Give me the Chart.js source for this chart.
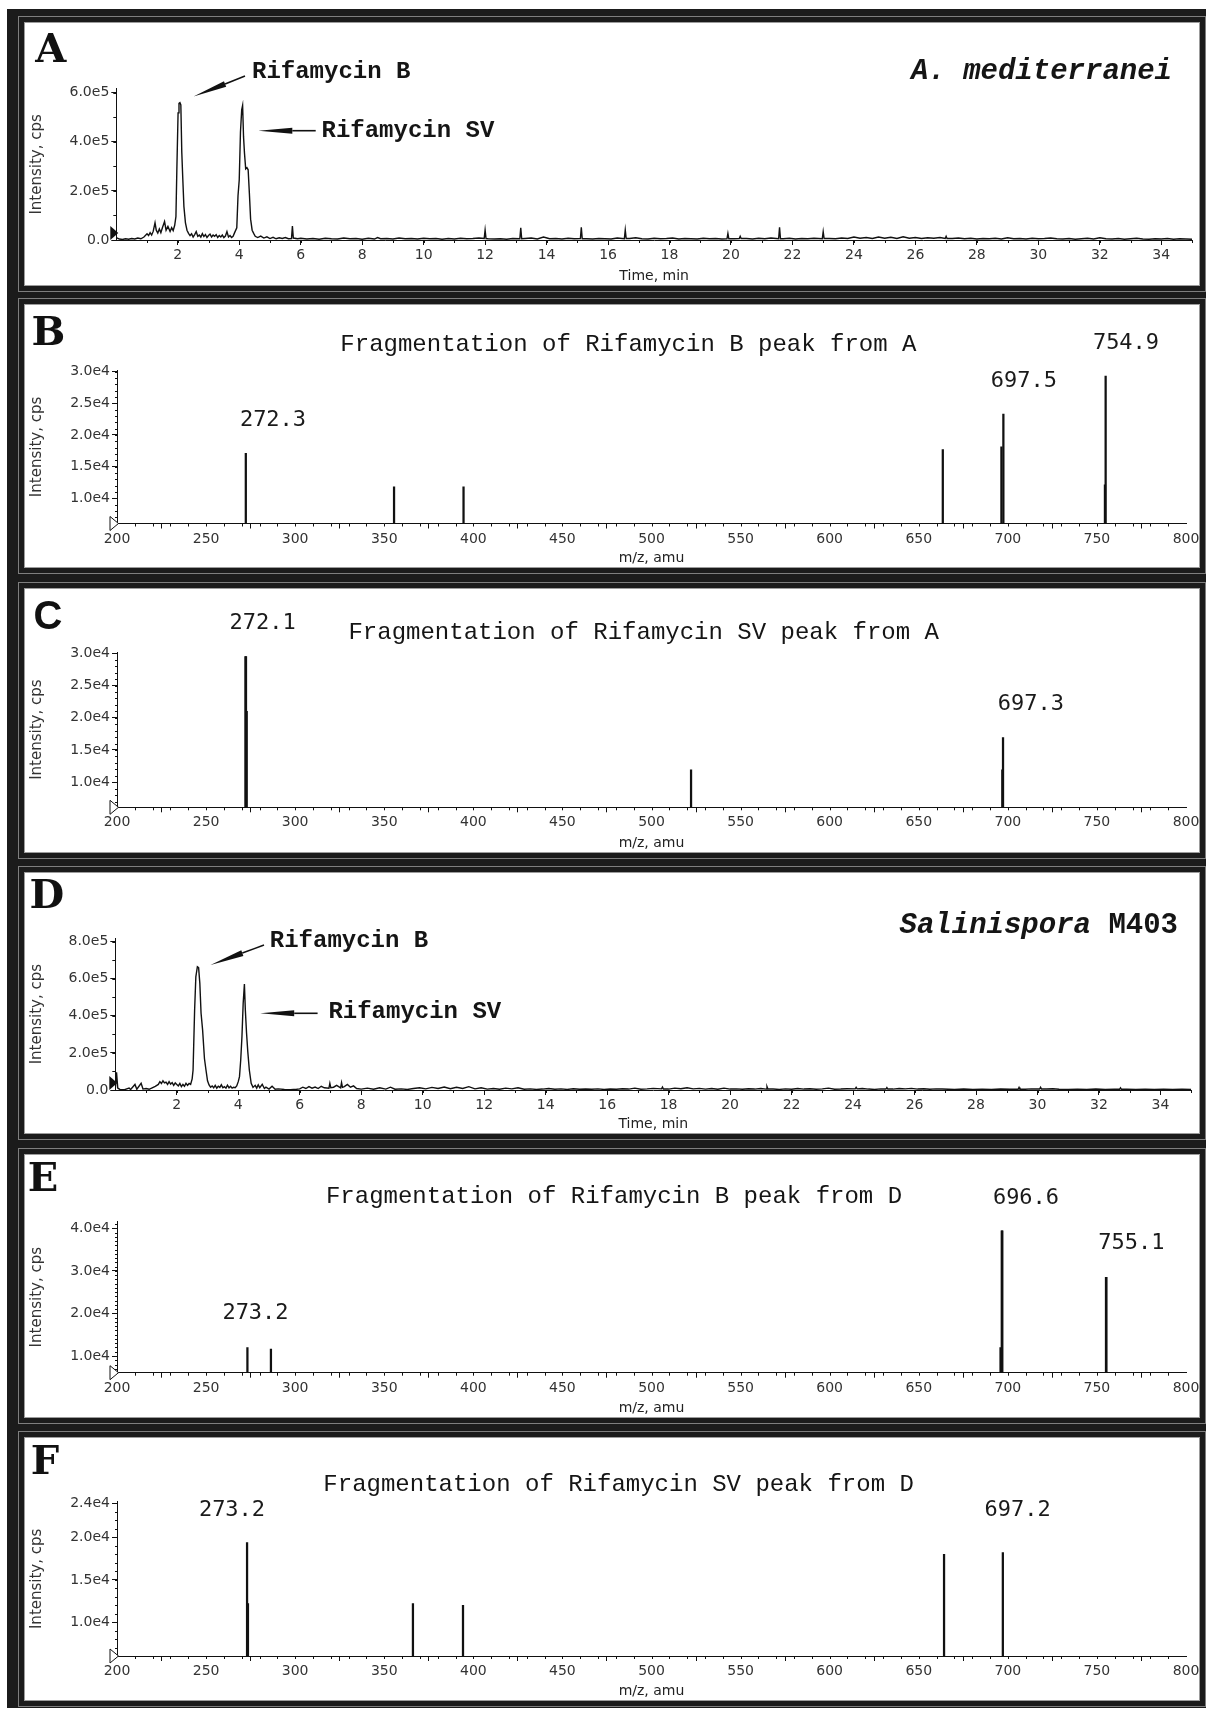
<!DOCTYPE html>
<html>
<head>
<meta charset="utf-8">
<script src="https://cdn.jsdelivr.net/npm/chart.js@4.4.1/dist/chart.umd.min.js"></script>
<style>
  html, body { margin: 0; padding: 0; background: #fff; }
  #page { position: relative; width: 1206px; height: 1709px; overflow: hidden; background: #fff; }
  #frame { position: absolute; left: 7px; top: 9px; width: 1199px; height: 1699px; background: #1b1b1b; }
  .panel { position: absolute; background: #fff;
           box-shadow: 0 0 0 1px #9c9c9c, 0 0 0 6px #1b1b1b, 0 0 0 7px #7e7e7e; }
  canvas { position: absolute; }
  .t { position: absolute; white-space: nowrap; line-height: 1; color: #151515; transform: translate(-50%, -50%); }
  .l { transform: translate(0, -50%); }
  .r { transform: translate(-100%, -50%); }
  .letter { font-family: "DejaVu Serif", serif; font-weight: bold; font-size: 40px; color: #111; }
  .mono { font-family: "Courier New", "Liberation Mono", monospace; font-size: 24px; }
  .bold { font-weight: bold; }
  .peak { font-family: "DejaVu Sans Mono", monospace; font-size: 22px; color: #1a1a1a; }
  .species { font-family: "Courier New", "Liberation Mono", monospace; font-size: 29px; font-weight: bold; }
  svg { position: absolute; left: 0; top: 0; }
</style>
</head>
<body>
<div id="page">
  <div id="frame"></div>
  <div class="panel" style="left:25px;top:23px;width:1174px;height:262px"></div>
  <div class="panel" style="left:25px;top:305px;width:1174px;height:262px"></div>
  <div class="panel" style="left:25px;top:589px;width:1174px;height:263px"></div>
  <div class="panel" style="left:25px;top:873px;width:1174px;height:260px"></div>
  <div class="panel" style="left:25px;top:1155px;width:1174px;height:262px"></div>
  <div class="panel" style="left:25px;top:1438px;width:1174px;height:262px"></div>

  <canvas id="cA"></canvas>
  <canvas id="cB"></canvas>
  <canvas id="cC"></canvas>
  <canvas id="cD"></canvas>
  <canvas id="cE"></canvas>
  <canvas id="cF"></canvas>

  <svg id="arrows" width="1206" height="1709"></svg>

  <!-- panel A -->
  <div class="t letter" style="left:50.7px;top:47.5px">A</div>
  <div class="t l mono bold" style="left:252px;top:72px">Rifamycin B</div>
  <div class="t l mono bold" style="left:321.5px;top:130.7px">Rifamycin SV</div>
  <div class="t r species" style="left:1172px;top:71px"><i>A. mediterranei</i></div>

  <!-- panel B -->
  <div class="t letter" style="left:48.4px;top:330.8px">B</div>
  <div class="t mono" style="left:628.4px;top:345px">Fragmentation of Rifamycin B peak from A</div>
  <div class="t peak" style="left:273px;top:418.7px">272.3</div>
  <div class="t peak" style="left:1023.9px;top:380px">697.5</div>
  <div class="t peak" style="left:1126px;top:342.3px">754.9</div>

  <!-- panel C -->
  <div class="t letter" style="left:48px;top:615px;font-family:'Liberation Sans',sans-serif">C</div>
  <div class="t mono" style="left:643.7px;top:633.3px">Fragmentation of Rifamycin SV peak from A</div>
  <div class="t peak" style="left:262.7px;top:622.3px">272.1</div>
  <div class="t peak" style="left:1030.8px;top:703.3px">697.3</div>

  <!-- panel D -->
  <div class="t letter" style="left:46.9px;top:894px">D</div>
  <div class="t l mono bold" style="left:269.8px;top:940.7px">Rifamycin B</div>
  <div class="t l mono bold" style="left:328.4px;top:1011.7px">Rifamycin SV</div>
  <div class="t r species" style="left:1178px;top:925px"><i>Salinispora</i> M403</div>

  <!-- panel E -->
  <div class="t letter" style="left:43px;top:1176.7px">E</div>
  <div class="t mono" style="left:614px;top:1197.3px">Fragmentation of Rifamycin B peak from D</div>
  <div class="t peak" style="left:255.5px;top:1311.7px">273.2</div>
  <div class="t peak" style="left:1026px;top:1196.7px">696.6</div>
  <div class="t peak" style="left:1131.4px;top:1242.3px">755.1</div>

  <!-- panel F -->
  <div class="t letter" style="left:45px;top:1460px">F</div>
  <div class="t mono" style="left:618.6px;top:1485px">Fragmentation of Rifamycin SV peak from D</div>
  <div class="t peak" style="left:232px;top:1509.3px">273.2</div>
  <div class="t peak" style="left:1017.6px;top:1509.3px">697.2</div>
</div>

<script>
// ---------- data ----------
// chromatograms: [time (min), intensity (x1e5 cps)]
const A_TRACE = [
  [0.00,0.10],[0.10,0.04],[0.20,0.02],[0.30,0.05],[0.40,0.03],[0.50,0.06],[0.60,0.04],[0.70,0.08],[0.80,0.05],[0.90,0.12],
  [1.00,0.25],[1.05,0.18],[1.10,0.30],[1.15,0.20],[1.20,0.35],[1.26,0.70],[1.30,0.40],[1.35,0.28],[1.40,0.45],[1.45,0.30],
  [1.50,0.50],[1.57,0.75],[1.62,0.40],[1.68,0.55],[1.75,0.35],[1.80,0.50],[1.85,0.38],[1.90,0.60],
  [1.94,0.95],[1.97,2.86],[2.01,5.18],[2.04,5.57],[2.07,5.60],[2.10,5.50],[2.13,3.60],[2.16,2.60],[2.20,1.36],[2.25,0.70],
  [2.30,0.40],[2.35,0.27],[2.40,0.18],[2.45,0.25],[2.50,0.12],[2.55,0.22],[2.60,0.34],[2.65,0.15],[2.70,0.20],[2.75,0.12],
  [2.80,0.26],[2.85,0.14],[2.90,0.22],[2.95,0.10],[3.00,0.18],[3.05,0.24],[3.10,0.12],[3.15,0.20],[3.20,0.15],[3.25,0.22],
  [3.30,0.10],[3.35,0.18],[3.40,0.12],[3.45,0.20],[3.50,0.10],[3.55,0.16],[3.60,0.34],[3.65,0.12],[3.70,0.18],[3.75,0.10],
  [3.80,0.15],[3.85,0.30],[3.92,0.50],[3.96,1.80],[4.00,2.45],[4.04,4.40],[4.08,5.30],[4.11,5.48],[4.14,4.20],[4.17,3.55],
  [4.21,2.90],[4.25,2.95],[4.29,2.86],[4.33,1.90],[4.37,0.85],[4.42,0.40],[4.47,0.27],[4.52,0.15],
  [4.60,0.10],[4.70,0.16],[4.80,0.08],[4.90,0.13],[5.00,0.06],[5.10,0.11],[5.20,0.05],[5.30,0.09],[5.40,0.06],[5.50,0.10],
  [5.60,0.05],[5.70,0.06],[5.73,0.57],[5.76,0.08],[5.90,0.05],[6.00,0.07],[6.20,0.04],[6.40,0.06],[6.60,0.03],[6.80,0.07],
  [7.00,0.05],[7.20,0.04],[7.40,0.08],[7.60,0.05],[7.80,0.06],[8.00,0.03],[8.20,0.07],[8.40,0.04],[8.50,0.10],[8.60,0.05],
  [8.80,0.06],[9.00,0.04],[9.20,0.08],[9.40,0.05],[9.60,0.06],[9.80,0.04],[10.0,0.07],[10.2,0.05],[10.4,0.06],[10.6,0.03],
  [10.8,0.06],[11.0,0.04],[11.2,0.07],[11.4,0.05],[11.6,0.06],[11.8,0.08],[11.97,0.06],[12.0,0.41],[12.03,0.06],[12.1,0.05],
  [12.3,0.04],[12.5,0.05],[12.7,0.03],[12.9,0.06],[13.13,0.05],[13.16,0.50],[13.19,0.05],[13.3,0.06],[13.5,0.08],[13.7,0.04],
  [13.9,0.12],[14.1,0.05],[14.3,0.06],[14.5,0.04],[14.7,0.07],[14.9,0.05],[15.10,0.06],[15.13,0.52],[15.16,0.05],[15.3,0.05],
  [15.5,0.04],[15.7,0.06],[15.9,0.05],[16.1,0.04],[16.3,0.08],[16.53,0.05],[16.56,0.41],[16.59,0.06],[16.7,0.06],[16.9,0.09],
  [17.1,0.05],[17.3,0.04],[17.5,0.07],[17.7,0.05],[17.9,0.06],[18.1,0.08],[18.3,0.04],[18.5,0.06],[18.7,0.05],[18.9,0.04],
  [19.1,0.07],[19.3,0.05],[19.5,0.06],[19.7,0.04],[19.87,0.05],[19.9,0.27],[19.93,0.05],[20.1,0.05],[20.27,0.06],[20.3,0.15],
  [20.33,0.06],[20.5,0.06],[20.7,0.04],[20.9,0.07],[21.1,0.05],[21.3,0.08],[21.55,0.05],[21.58,0.52],[21.61,0.05],[21.7,0.05],
  [21.9,0.07],[22.1,0.04],[22.3,0.06],[22.5,0.05],[22.7,0.07],[22.97,0.05],[23.0,0.34],[23.03,0.06],[23.2,0.06],[23.4,0.05],
  [23.6,0.08],[23.8,0.06],[24.0,0.12],[24.2,0.07],[24.4,0.10],[24.6,0.06],[24.8,0.12],[25.0,0.07],[25.2,0.11],[25.4,0.06],
  [25.6,0.13],[25.8,0.07],[26.0,0.10],[26.2,0.06],[26.4,0.09],[26.6,0.07],[26.8,0.10],[26.97,0.06],[27.0,0.15],[27.03,0.06],
  [27.2,0.06],[27.4,0.08],[27.6,0.05],[27.8,0.07],[28.0,0.04],[28.2,0.06],[28.4,0.05],[28.6,0.07],[28.8,0.04],[29.0,0.09],
  [29.2,0.05],[29.4,0.06],[29.6,0.04],[29.8,0.07],[30.0,0.05],[30.2,0.06],[30.4,0.08],[30.6,0.05],[30.8,0.04],[31.0,0.06],
  [31.2,0.03],[31.4,0.05],[31.6,0.07],[31.8,0.04],[32.0,0.09],[32.2,0.05],[32.4,0.04],[32.6,0.06],[32.8,0.03],[33.0,0.05],
  [33.2,0.07],[33.4,0.04],[33.6,0.03],[33.8,0.05],[34.0,0.04],[34.2,0.06],[34.4,0.03],[34.6,0.05],[34.8,0.04],[35.0,0.03]
];

const D_TRACE = [
  [0.00,0.05],[0.04,0.95],[0.08,0.10],[0.15,0.03],[0.30,0.02],[0.45,0.10],[0.50,0.03],[0.64,0.30],[0.70,0.04],[0.84,0.36],
  [0.90,0.05],[1.00,0.08],[1.10,0.04],[1.20,0.12],[1.30,0.20],[1.40,0.30],[1.45,0.45],[1.50,0.35],[1.55,0.50],[1.60,0.38],
  [1.65,0.42],[1.70,0.30],[1.75,0.45],[1.80,0.32],[1.85,0.40],[1.90,0.25],[1.95,0.38],[2.00,0.30],[2.05,0.22],[2.10,0.35],
  [2.15,0.18],[2.20,0.30],[2.25,0.20],[2.30,0.36],[2.35,0.25],[2.40,0.35],[2.45,0.30],[2.50,0.60],[2.53,1.08],[2.58,4.30],
  [2.62,6.10],[2.67,6.65],[2.71,6.60],[2.75,5.75],[2.79,4.14],[2.84,3.24],[2.90,1.70],[2.95,1.08],[3.00,0.50],[3.05,0.27],
  [3.10,0.15],[3.15,0.22],[3.20,0.12],[3.25,0.25],[3.30,0.10],[3.35,0.20],[3.40,0.14],[3.45,0.28],[3.50,0.12],[3.55,0.18],
  [3.60,0.10],[3.65,0.26],[3.70,0.12],[3.75,0.20],[3.80,0.10],[3.85,0.15],[3.90,0.12],[3.95,0.22],[4.00,0.45],[4.04,0.72],
  [4.08,1.62],[4.12,2.88],[4.16,4.68],[4.20,5.72],[4.23,4.32],[4.27,3.06],[4.31,2.07],[4.36,1.08],[4.42,0.36],[4.48,0.14],
  [4.55,0.25],[4.60,0.10],[4.65,0.28],[4.70,0.12],[4.78,0.30],[4.85,0.08],[4.90,0.15],[5.00,0.05],[5.10,0.20],[5.20,0.04],
  [5.30,0.06],[5.50,0.03],[5.70,0.02],[5.90,0.04],[6.00,0.06],[6.10,0.15],[6.20,0.08],[6.30,0.18],[6.40,0.10],[6.50,0.16],
  [6.60,0.08],[6.70,0.20],[6.80,0.12],[6.95,0.10],[6.98,0.36],[7.01,0.12],[7.10,0.15],[7.20,0.25],[7.33,0.12],[7.36,0.40],
  [7.39,0.14],[7.45,0.18],[7.55,0.30],[7.65,0.15],[7.75,0.22],[7.85,0.08],[8.00,0.05],[8.20,0.10],[8.40,0.04],[8.60,0.12],
  [8.80,0.05],[8.95,0.15],[9.10,0.04],[9.30,0.06],[9.50,0.03],[9.70,0.08],[9.90,0.12],[10.1,0.06],[10.3,0.14],[10.5,0.08],
  [10.7,0.16],[10.9,0.07],[11.1,0.15],[11.3,0.08],[11.5,0.18],[11.7,0.06],[11.9,0.12],[12.1,0.05],[12.3,0.08],[12.5,0.04],
  [12.7,0.10],[12.9,0.06],[13.1,0.12],[13.3,0.04],[13.5,0.06],[13.7,0.03],[13.9,0.05],[14.1,0.08],[14.3,0.04],[14.5,0.06],
  [14.7,0.03],[14.9,0.07],[15.1,0.04],[15.3,0.05],[15.5,0.04],[15.7,0.06],[15.9,0.03],[16.1,0.05],[16.3,0.04],[16.5,0.07],
  [16.7,0.05],[16.9,0.10],[17.1,0.04],[17.3,0.06],[17.5,0.09],[17.77,0.06],[17.8,0.16],[17.83,0.05],[18.0,0.05],[18.2,0.10],
  [18.4,0.07],[18.6,0.12],[18.8,0.06],[19.0,0.09],[19.2,0.05],[19.4,0.08],[19.6,0.04],[19.8,0.10],[20.0,0.05],[20.2,0.06],
  [20.4,0.04],[20.6,0.07],[20.8,0.05],[21.0,0.08],[21.17,0.05],[21.2,0.18],[21.23,0.05],[21.4,0.05],[21.6,0.03],[21.8,0.06],
  [22.0,0.04],[22.2,0.08],[22.4,0.05],[22.6,0.07],[22.8,0.04],[23.0,0.06],[23.2,0.10],[23.4,0.04],[23.6,0.05],[23.8,0.07],
  [24.07,0.06],[24.1,0.14],[24.13,0.06],[24.3,0.08],[24.5,0.05],[24.7,0.03],[24.9,0.06],[25.07,0.05],[25.1,0.13],[25.13,0.05],
  [25.3,0.05],[25.5,0.08],[25.7,0.06],[25.9,0.09],[26.1,0.05],[26.3,0.07],[26.5,0.04],[26.7,0.06],[26.9,0.05],[27.1,0.04],
  [27.3,0.03],[27.6,0.05],[27.9,0.03],[28.2,0.04],[28.5,0.03],[28.8,0.05],[29.1,0.04],[29.37,0.04],[29.4,0.14],[29.43,0.04],
  [29.6,0.04],[29.8,0.06],[30.07,0.05],[30.1,0.15],[30.13,0.05],[30.3,0.05],[30.5,0.07],[30.7,0.04],[31.0,0.03],[31.3,0.04],
  [31.6,0.03],[31.9,0.05],[32.2,0.03],[32.5,0.04],[32.67,0.04],[32.7,0.12],[32.73,0.04],[32.9,0.04],[33.2,0.03],[33.5,0.04],
  [33.8,0.03],[34.1,0.04],[34.4,0.03],[34.7,0.04],[35.0,0.03]
];

// MS/MS spectra: [m/z, intensity (x1e4 cps)]
const B_PEAKS = [[272.3,1.71],[355.5,1.18],[394.5,1.18],[663.5,1.77],[696.4,1.81],[697.5,2.33],[754.5,1.21],[754.9,2.93]];
const C_PEAKS = [[272.1,2.95],[272.4,2.95],[272.8,2.10],[522.2,1.19],[696.9,1.19],[697.3,1.69]];
const E_PEAKS = [[273.2,1.20],[286.4,1.16],[695.9,1.20],[696.6,3.94],[696.9,3.94],[755.1,2.85],[755.3,2.85]];
const F_PEAKS = [[273.0,1.94],[273.5,1.22],[366.1,1.22],[394.2,1.20],[664.2,1.80],[697.2,1.82]];

// tick values
const TIME_TICKS = [2,4,6,8,10,12,14,16,18,20,22,24,26,28,30,32,34];
const MZ_TICKS = [200,250,300,350,400,450,500,550,600,650,700,750,800];
const A_Y_TICKS = [0,2,4,6];
const D_Y_TICKS = [0,2,4,6,8];
const B_Y_TICKS = [1.0,1.5,2.0,2.5,3.0];
const C_Y_TICKS = [1.0,1.5,2.0,2.5,3.0];
const E_Y_TICKS = [1,2,3,4];
const F_Y_TICKS = [1.0,1.5,2.0,2.4];

// ---------- layout (page pixels) ----------
// box: canvas rect [x, y, w, h]; left/right/top/bottom: where the axes sit
const PANELS = {
  A: {box:[25,23,1181,262],   left:116.3, right:1192,   top:88.8,   bottom:240,    x:[0,35],    y:[0,6.16]},
  B: {box:[25,305,1181,262],  left:117,   right:1186,   top:370.4,  bottom:523.5,  x:[200,800], y:[0.60,3.02]},
  C: {box:[25,589,1181,263],  left:117,   right:1186,   top:652,    bottom:807.3,  x:[200,800], y:[0.61,3.02]},
  D: {box:[25,873,1181,260],  left:115.3, right:1191.2, top:938.3,  bottom:1090,   x:[0,35],    y:[0,8.18]},
  E: {box:[25,1155,1181,262], left:117,   right:1186,   top:1221.7, bottom:1372.7, x:[200,800], y:[0.608,4.155]},
  F: {box:[25,1438,1181,262], left:117,   right:1186,   top:1501.7, bottom:1656,   x:[200,800], y:[0.604,2.42]}
};

Chart.defaults.font.family = '"DejaVu Sans", sans-serif';
Chart.defaults.color = '#333';

// minor ticks + the little triangle at the origin
const axisDecor = {
  id: 'axisDecor',
  afterDraw(chart, args, o) {
    const {ctx, chartArea: ca, scales: {x, y}} = chart;
    ctx.save();
    ctx.strokeStyle = '#111';
    ctx.lineWidth = 1;
    ctx.beginPath();
    const [x0, x1, xs] = o.xMinor;
    for (let v = x0; v <= x1 + 1e-9; v += xs) {
      const px = Math.round(x.getPixelForValue(v)) + 0.5;
      ctx.moveTo(px, ca.bottom);
      ctx.lineTo(px, ca.bottom + o.xLen);
    }
    const ys = o.yMinor;
    for (let v = Math.ceil(y.min / ys - 1e-9) * ys; v <= y.max + 1e-9; v += ys) {
      const py = Math.round(y.getPixelForValue(v)) + 0.5;
      ctx.moveTo(ca.left, py);
      ctx.lineTo(ca.left - o.yLen, py);
    }
    ctx.stroke();

    const bx = ca.left, by = ca.bottom;
    ctx.beginPath();
    if (o.marker === 'filled') {
      ctx.moveTo(bx - 6, by - 14);
      ctx.lineTo(bx - 6, by);
      ctx.lineTo(bx + 2, by - 7);
      ctx.closePath();
      ctx.fillStyle = '#111';
      ctx.fill();
    } else {
      ctx.moveTo(bx - 7, by - 7);
      ctx.lineTo(bx - 7, by + 7);
      ctx.lineTo(bx + 1.5, by);
      ctx.closePath();
      ctx.fillStyle = '#fff';
      ctx.fill();
      ctx.stroke();
    }
    ctx.restore();
  }
};

function makeChart(id, key, dataset, yTicks, fmt, xTitle, decor) {
  const p = PANELS[key];
  const [bx, by, bw, bh] = p.box;
  const cv = document.getElementById(id);
  cv.width = bw; cv.height = bh;
  cv.style.left = bx + 'px'; cv.style.top = by + 'px';
  const isTime = p.x[1] === 35;

  return new Chart(cv, {
    type: dataset.type,
    data: {datasets: [dataset]},
    options: {
      responsive: false,
      animation: false,
      devicePixelRatio: 1,
      layout: {padding: {left: 0, right: bx + bw - p.right, top: p.top - by, bottom: 0}},
      plugins: {legend: {display: false}, tooltip: {enabled: false}, axisDecor: decor},
      scales: {
        x: {
          type: 'linear', min: p.x[0], max: p.x[1], offset: false,
          afterBuildTicks: s => { s.ticks = (isTime ? TIME_TICKS : MZ_TICKS).map(v => ({value: v})); },
          afterFit: s => { s.height = by + bh - p.bottom; s.paddingLeft = s.paddingRight = 0; },
          grid: {drawOnChartArea: false, drawTicks: true, tickLength: 5, color: '#111'},
          border: {color: '#111', width: 1},
          ticks: {autoSkip: false, maxRotation: 0, padding: 2, font: {size: 14}, color: '#333'},
          title: {display: true, text: xTitle, font: {size: 14}, color: '#222', padding: {top: 0, bottom: 0}}
        },
        y: {
          min: p.y[0], max: p.y[1],
          afterBuildTicks: s => { s.ticks = yTicks.map(v => ({value: v})); },
          afterFit: s => { s.width = p.left - bx; s.paddingTop = s.paddingBottom = 0; },
          grid: {drawOnChartArea: false, drawTicks: true, tickLength: 5, color: '#111'},
          border: {color: '#111', width: 1},
          ticks: {autoSkip: false, padding: 2, font: {size: 14}, color: '#333', callback: fmt},
          title: {display: true, text: 'Intensity, cps', font: {size: 15}, color: '#333', padding: {top: 3, bottom: 0}}
        }
      }
    },
    plugins: [axisDecor]
  });
}

const fmtE5 = v => v === 0 ? '0.0' : v.toFixed(1) + 'e5';
const fmtE4 = v => v.toFixed(1) + 'e4';

function traceSet(trace) {
  return {
    type: 'line',
    data: trace.map(([x, y]) => ({x, y})),
    borderColor: '#111', borderWidth: 1.4,
    pointRadius: 0, tension: 0, fill: false
  };
}

function peakSet(peaks, base) {
  return {
    type: 'bar',
    data: peaks.map(([x, y]) => ({x, y})),
    base: base,
    backgroundColor: '#111',
    barThickness: 1.6
  };
}

const chromDecor = {xMinor: [1, 35, 1], xLen: 3, yMinor: 1, yLen: 3, marker: 'filled'};
const specDecor = {xMinor: [210, 790, 10], xLen: 3, yMinor: 0.1, yLen: 2, marker: 'open'};

makeChart('cA', 'A', traceSet(A_TRACE), A_Y_TICKS, fmtE5, 'Time, min', chromDecor);
makeChart('cB', 'B', peakSet(B_PEAKS, PANELS.B.y[0]), B_Y_TICKS, fmtE4, 'm/z, amu', specDecor);
makeChart('cC', 'C', peakSet(C_PEAKS, PANELS.C.y[0]), C_Y_TICKS, fmtE4, 'm/z, amu', specDecor);
makeChart('cD', 'D', traceSet(D_TRACE), D_Y_TICKS, fmtE5, 'Time, min', chromDecor);
makeChart('cE', 'E', peakSet(E_PEAKS, PANELS.E.y[0]), E_Y_TICKS, fmtE4, 'm/z, amu', specDecor);
makeChart('cF', 'F', peakSet(F_PEAKS, PANELS.F.y[0]), F_Y_TICKS, fmtE4, 'm/z, amu', specDecor);

// annotation arrows: [tailX, tailY, tipX, tipY]
const ARROWS = [
  [245, 76, 193.5, 96.5],
  [315.7, 130.7, 258.3, 130.7],
  [264, 945, 210.5, 965],
  [317.6, 1013.3, 260.2, 1013.3]
];
const svg = document.getElementById('arrows');
let svgHtml = '';
ARROWS.forEach(([x1, y1, x2, y2]) => {
  const dx = x1 - x2, dy = y1 - y2, len = Math.hypot(dx, dy);
  const ux = dx / len, uy = dy / len, nx = -uy, ny = ux;
  const head = 34, hw = 3;
  const bxp = x2 + ux * head, byp = y2 + uy * head;
  svgHtml += `<line x1="${x1}" y1="${y1}" x2="${bxp}" y2="${byp}" stroke="#111" stroke-width="1.6"/>`;
  svgHtml += `<polygon points="${x2},${y2} ${bxp + nx * hw},${byp + ny * hw} ${bxp - nx * hw},${byp - ny * hw}" fill="#111"/>`;
});
svg.innerHTML = svgHtml;
</script>
</body>
</html>
